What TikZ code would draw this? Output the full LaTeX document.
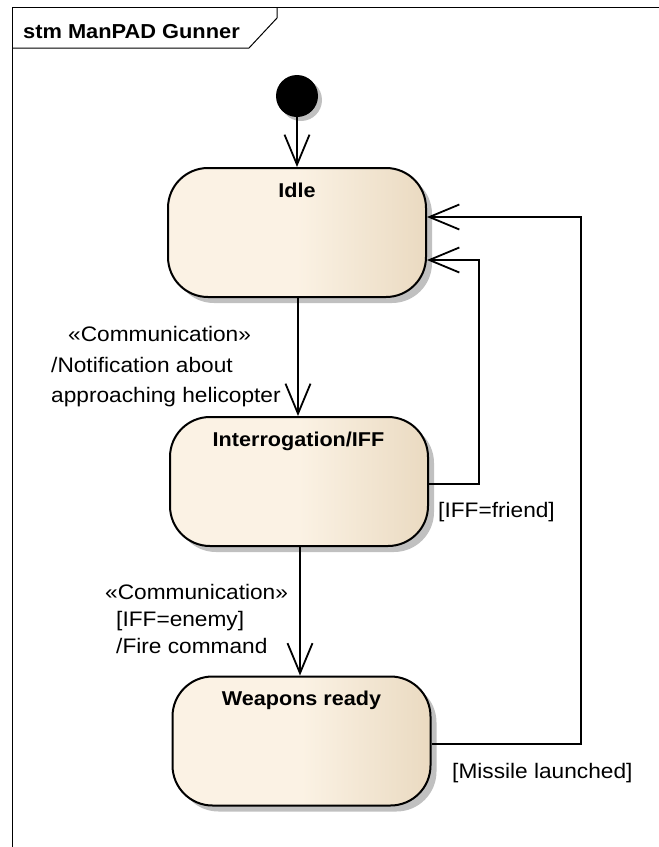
\documentclass[tikz,border=0pt]{standalone}
\usepackage{fontspec}
\setmainfont{Liberation Sans}[FakeStretch=1.08]
\usetikzlibrary{arrows.meta,shadows}
\definecolor{stL}{RGB}{251,242,228}
\definecolor{stR}{RGB}{234,218,193}
\definecolor{shad}{RGB}{192,192,192}
\pgfdeclarehorizontalshading{stateshade}{100bp}{color(0bp)=(stL); color(50bp)=(stL); color(75bp)=(stR); color(100bp)=(stR)}
\begin{document}
\begin{tikzpicture}[x=1pt,y=-1pt,
  statebox/.style={draw=black, line width=2pt, rounded corners=40pt,
    minimum width=258pt, minimum height=129pt, inner sep=0pt, shading=stateshade,
    drop shadow={shadow xshift=6pt, shadow yshift=-6pt, fill=shad, opacity=1}},
  statetitle/.style={anchor=base, inner sep=0pt, font=\fontsize{20}{24}\selectfont\bfseries},
  lbl/.style={anchor=base west, inner sep=0pt, font=\fontsize{21}{25}\selectfont},
  trans/.style={line width=1.8pt, -{Straight Barb[length=30pt, width=25pt]}},
  framel/.style={line width=1pt}]
\useasboundingbox (0,0) rectangle (659,847);
% frame
\draw[framel] (12.5,847) -- (12.5,7.5) -- (659,7.5);
\draw[framel] (12.5,48) -- (249,48) -- (277,18) -- (277,7.5);
\node[anchor=base west, inner sep=0pt, font=\fontsize{20.2}{24}\selectfont\bfseries] (title) at (23,38) {stm ManPAD Gunner};
% initial
\node[circle, fill=black, minimum size=42pt, inner sep=0pt,
  drop shadow={shadow xshift=4pt, shadow yshift=-4pt, fill=shad, opacity=1}] (init) at (297,96) {};
% states
\node[statebox] (idle) at (297,232.5) {};
\node[statebox] (inter) at (299,481.5) {};
\node[statebox] (weap) at (301.5,741) {};
\node[statetitle] (tidle) at (297,197) {Idle};
\node[statetitle] (tinter) at (298.5,446) {Interrogation/IFF};
\node[statetitle] (tweap) at (301.5,705) {Weapons ready};
% transitions
\draw[trans] (init.south) -- (init.south |- idle.north);
\draw[trans] (idle.south -| 298,0) -- (inter.north -| 298,0);
\draw[trans] (inter.south -| 300,0) -- (weap.north -| 300,0);
\coordinate (b1) at (479,260);
\coordinate (b2) at (581,217);
\draw[trans] ([yshift=-2.5pt]inter.east) -| (b1) -- (idle.east |- b1);
\draw[trans] ([yshift=-3pt]weap.east) -| (b2) -- (idle.east |- b2);
% labels
\node[lbl] (l1a) at (68,341) {«Communication»};
\node[lbl] (l1b) at (51,372) {/Notification about};
\node[lbl] (l1c) at (51,402) {approaching helicopter};
\node[lbl] (l2a) at (105,599) {«Communication»};
\node[lbl] (l2b) at (116,626) {[IFF=enemy]};
\node[lbl] (l2c) at (116,653) {/Fire command};
\node[lbl] (l3) at (438,517) {[IFF=friend]};
\node[lbl] (l4) at (452,778) {[Missile launched]};
\end{tikzpicture}
\end{document}
